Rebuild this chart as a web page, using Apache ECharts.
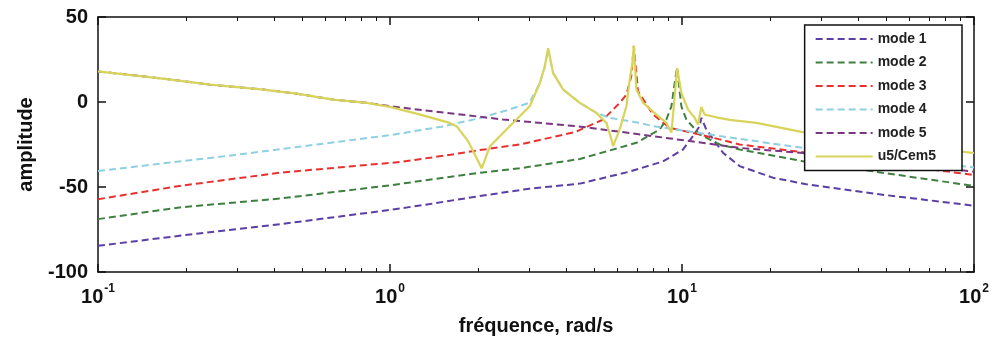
<!DOCTYPE html>
<html>
<head>
<meta charset="utf-8">
<script src="https://cdn.jsdelivr.net/npm/echarts@6.0.0/dist/echarts.min.js"></script>
<style>
  html, body { margin: 0; padding: 0; background: #fff; }
  #chart { width: 992px; height: 343px; }
</style>
</head>
<body>
<div id="chart"></div>
<script>
// values (x in rad/s, y in dB)
const mode1Freq = [0.1, 0.19, 0.42, 1.0, 1.37, 2.03, 3.0, 4.47, 6.6, 8.6, 10.07, 10.91, 11.49, 11.65, 12.11, 13.81, 15.74, 20.48, 26.65, 47.4, 100];
const mode1Amp = [-84.6, -78.7, -71.9, -63.5, -60, -55.3, -51, -48, -41, -35, -28, -20, -14.2, -9.3, -16.2, -29.8, -37.7, -44.5, -48.4, -54.3, -61];

const mode2Freq = [0.1, 0.19, 0.42, 1.0, 2.03, 2.78, 4.47, 6.98, 8.39, 8.84, 9.2, 9.44, 9.62, 9.95, 10.35, 11.49, 13.45, 15.74, 25.92, 100];
const mode2Amp = [-68.9, -62, -56.8, -49, -41.6, -39, -33.5, -24, -16.2, -10.3, -2.5, 11.2, 20, -2.5, -10.3, -19, -25, -27.9, -34.8, -49.4];

const mode3Freq = [0.1, 0.19, 0.42, 1.08, 1.56, 2.03, 2.78, 4.3, 5.37, 6.12, 6.45, 6.7, 6.84, 7.07, 7.96, 9.08, 11.49, 13.45, 15.74, 25.92, 100];
const mode3Amp = [-57.2, -49.4, -41.6, -35.3, -31.4, -28.3, -25, -17.7, -10.3, -0.5, 4.3, 15, 33, 6.3, -7.4, -15.2, -19.1, -22, -25, -29.5, -43];

const mode4Freq = [0.1, 0.3, 1.0, 1.5, 2.03, 2.5, 3.0, 3.26, 3.39, 3.48, 3.62, 3.92, 4.47, 5.09, 5.66, 7.16, 7.96, 13.45, 25.92, 100];
const mode4Amp = [-40.6, -31, -19.5, -14.5, -9.5, -5, -0.5, 11, 21, 31, 17, 7.3, -0.5, -6.4, -9.3, -12.3, -14.2, -20, -27, -38.5];

const mode5Freq = [0.1, 0.172, 0.242, 0.368, 0.48, 0.638, 0.832, 1.0, 1.56, 2.44, 4.5, 7.5, 10.62, 15.74, 25.92, 100];
const mode5Amp = [18, 13.5, 10.2, 7.3, 4.9, 1.4, -0.5, -2.5, -6.4, -10.3, -14.5, -19.5, -23, -27, -30, -41];

const u5Freq = [0.1, 0.172, 0.242, 0.368, 0.48, 0.638, 0.832, 1.0, 1.27, 1.6, 1.69, 1.85, 1.98, 2.06, 2.2, 2.51, 3.01, 3.26, 3.39, 3.48, 3.62, 3.92, 4.47, 5.09, 5.51, 5.73, 5.81, 6.12, 6.45, 6.62, 6.76, 6.84, 6.98, 7.36, 8.17, 8.84, 9.2, 9.44, 9.62, 9.95, 10.49, 11.05, 11.34, 11.65, 11.95, 13.11, 14.56, 17.98, 25.92, 94, 100];
const u5Amp = [18, 13.5, 10.2, 7.3, 4.9, 1.4, -0.5, -2.9, -7.4, -12.3, -14.2, -23, -33, -39, -26, -16, -2.5, 11.2, 21, 31.7, 17, 7.3, -0.5, -6.4, -12.3, -22, -26, -16, -2.5, 13, 23, 33, 7.3, -0.5, -7.4, -12.3, -18, 3.3, 20, 5.3, -4.5, -9.3, -13.2, -2.9, -7.4, -9, -10.5, -12.3, -17.7, -29.5, -30];

const seriesNames = ['mode 1', 'mode 2', 'mode 3', 'mode 4', 'mode 5', 'u5/Cem5'];
const minorTicks = [0.2, 0.3, 0.4, 0.5, 0.6, 0.7, 0.8, 0.9, 2, 3, 4, 5, 6, 7, 8, 9, 20, 30, 40, 50, 60, 70, 80, 90];

const font = '"Liberation Sans", Arial, sans-serif';
const frame = { show: true, onZero: false, lineStyle: { color: '#111', width: 1.5 } };

const pairs = (f, a) => f.map((x, i) => [x, a[i]]);

const dashed = (name, col, fr, am) => ({
  name: name,
  type: 'line',
  symbol: 'none',
  smooth: false,
  lineStyle: { color: col, width: 2, type: [7, 4] },
  itemStyle: { color: col },
  data: pairs(fr, am),
});

const chartDom = document.getElementById('chart');
let myChart = echarts.getInstanceByDom(chartDom);
if (!myChart) {
  myChart = echarts.init(chartDom, null, { renderer: 'canvas' });
}

const logAxis = (extra) => Object.assign({
  type: 'log',
  logBase: 10,
  min: 0.1,
  max: 100,
  splitLine: { show: false },
  axisLabel: { show: false },
}, extra);

const option = {
  backgroundColor: '#fff',
  animation: false,
  grid: { left: 98, right: 18, top: 17, bottom: 71 },
  legend: {
    orient: 'vertical',
    right: 30,
    top: 25,
    padding: [7, 26, 7, 10],
    itemWidth: 57,
    itemHeight: 14,
    itemGap: 9.5,
    backgroundColor: '#fff',
    borderColor: '#111',
    borderWidth: 1.5,
    itemStyle: { opacity: 0 },
    textStyle: { fontFamily: font, fontWeight: 'bold', fontSize: 14, color: '#222' },
    data: seriesNames,
  },
  xAxis: [
    logAxis({
      position: 'bottom',
      axisLine: frame,
      axisTick: { show: true, inside: true, length: 8, lineStyle: { color: '#111', width: 1.5 } },
      axisLabel: {
        show: true,
        margin: 11,
        formatter: (v) => '{b|10}{s|' + Math.round(Math.log10(v)) + '}',
        rich: {
          b: { fontFamily: font, fontWeight: 'bold', fontSize: 20, color: '#111', lineHeight: 24, verticalAlign: 'bottom' },
          s: { fontFamily: font, fontWeight: 'bold', fontSize: 12, color: '#111', lineHeight: 12, verticalAlign: 'top', padding: [0, 0, 0, 1] },
        },
      },
      name: 'fréquence, rad/s',
      nameLocation: 'middle',
      nameGap: 44,
      nameTextStyle: { fontFamily: font, fontWeight: 'bold', fontSize: 20, color: '#111' },
    }),
    logAxis({
      position: 'bottom',
      axisLine: { show: false, onZero: false },
      axisTick: { show: true, inside: true, length: 4, customValues: minorTicks, lineStyle: { color: '#111', width: 1 } },
    }),
    logAxis({
      position: 'top',
      axisLine: frame,
      axisTick: { show: true, inside: true, length: 8, lineStyle: { color: '#111', width: 1.5 } },
    }),
    logAxis({
      position: 'top',
      axisLine: { show: false, onZero: false },
      axisTick: { show: true, inside: true, length: 4, customValues: minorTicks, lineStyle: { color: '#111', width: 1 } },
    }),
  ],
  yAxis: [
    {
      type: 'value',
      position: 'left',
      min: -100,
      max: 50,
      interval: 50,
      axisLine: frame,
      axisTick: { show: true, inside: true, length: 8, lineStyle: { color: '#111', width: 1.5 } },
      splitLine: { show: false },
      axisLabel: { margin: 10, fontFamily: font, fontWeight: 'bold', fontSize: 20, color: '#111' },
      name: 'amplitude',
      nameLocation: 'middle',
      nameRotate: 90,
      nameGap: 62,
      nameTextStyle: { fontFamily: font, fontWeight: 'bold', fontSize: 20, color: '#111' },
    },
    {
      type: 'value',
      position: 'right',
      min: -100,
      max: 50,
      interval: 50,
      axisLine: frame,
      axisTick: { show: true, inside: true, length: 8, lineStyle: { color: '#111', width: 1.5 } },
      splitLine: { show: false },
      axisLabel: { show: false },
    },
  ],
  series: [
    dashed(seriesNames[0], '#5b3ea6', mode1Freq, mode1Amp),
    dashed(seriesNames[1], '#3f8040', mode2Freq, mode2Amp),
    dashed(seriesNames[2], '#e8312f', mode3Freq, mode3Amp),
    dashed(seriesNames[3], '#8fd0e0', mode4Freq, mode4Amp),
    dashed(seriesNames[4], '#7a3583', mode5Freq, mode5Amp),
    {
      name: seriesNames[5],
      type: 'line',
      symbol: 'none',
      lineStyle: { color: '#d8d45a', width: 2.2 },
      itemStyle: { color: '#d8d45a' },
      data: pairs(u5Freq, u5Amp),
    },
  ],
};

myChart.setOption(option);
</script>
</body>
</html>
